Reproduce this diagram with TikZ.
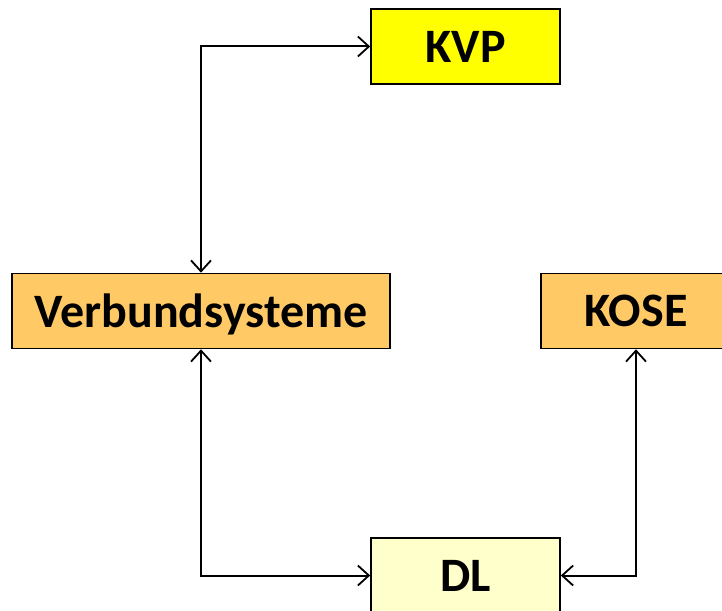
\documentclass[tikz,border=0pt]{standalone}
\usepackage{fontspec}
\setmainfont{Carlito}
\usetikzlibrary{arrows.meta,positioning}
\definecolor{kvpyellow}{HTML}{FFFF00}
\definecolor{boxorange}{HTML}{FFCA66}
\definecolor{dlyellow}{HTML}{FFFFCC}
\tikzset{box/.style={rectangle,draw=black,line width=1.6pt,minimum height=75pt,inner sep=0pt,
  text depth=0pt,font=\fontsize{48}{52}\selectfont\bfseries}}
\begin{document}
\begin{tikzpicture}[x=1pt,y=-1pt,>={Straight Barb[length=11pt,width=20pt,line width=1.8pt]}]
\useasboundingbox (0,0) rectangle (722,610);
% \draw[help lines] (0,0) grid (722,610);
\node (kvp) [box,fill=kvpyellow,minimum width=189pt] at (465.5,46.5) {KVP};
\node (vs) [box,fill=boxorange,minimum width=378pt] at (201,311) {Verbundsysteme};
\node (kose) [box,fill=boxorange,minimum width=190pt] at (636,311) {KOSE};
\node (dl) [box,fill=dlyellow,minimum width=189pt] at (465.5,575.5) {DL};
%
\draw[<->,line width=2pt] (vs.north) |- (kvp.west);
\draw[<->,line width=2pt] (vs.south) |- (dl.west);
\draw[<->,line width=2pt] (kose.south) |- (dl.east);
\end{tikzpicture}
\end{document}
